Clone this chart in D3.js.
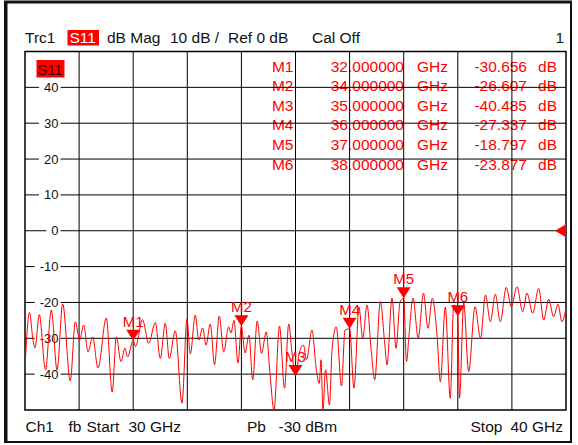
<!DOCTYPE html>
<html>
<head>
<meta charset="utf-8">
<script src="https://cdn.jsdelivr.net/npm/d3@7/dist/d3.min.js"></script>
<style>
    html, body { margin: 0; padding: 0; background: #fff; }
    svg { display: block; font-family: 'Liberation Sans', Arial, sans-serif; }
</style>
</head>
<body>
<svg id="js-graph-svg"></svg>
<script>
'use strict';

// trace S11, dB Mag
const freqGHz = [
    30.000, 30.083, 30.148, 30.185, 30.264, 30.379, 30.486, 30.592, 30.697, 30.837,
    30.930, 31.011, 31.085, 31.165, 31.251, 31.349, 31.503, 31.612, 31.688, 31.775,
    31.848, 31.895, 32.000, 32.043, 32.172, 32.287, 32.409, 32.501, 32.593, 32.667,
    32.778, 32.902, 32.994, 33.055, 33.148, 33.211, 33.285, 33.346, 33.425, 33.503,
    33.591, 33.673, 33.765, 33.808, 33.863, 33.937, 34.000, 34.067, 34.140, 34.209,
    34.292, 34.372, 34.460, 34.519, 34.603, 34.704, 34.797, 34.874, 34.935, 35.000,
    35.074, 35.148, 35.203, 35.305, 35.379, 35.440, 35.471, 35.508, 35.555, 35.628,
    35.675, 35.754, 35.850, 35.915, 36.000, 36.081, 36.174, 36.242, 36.322, 36.401,
    36.464, 36.568, 36.649, 36.691, 36.784, 36.858, 36.932, 37.000, 37.052, 37.098,
    37.172, 37.268, 37.366, 37.449, 37.529, 37.616, 37.677, 37.769, 37.861, 37.924,
    38.000, 38.031, 38.109, 38.201, 38.318, 38.420, 38.512, 38.601, 38.693, 38.786,
    38.897, 38.989, 39.094, 39.200, 39.279, 39.384, 39.495, 39.588, 39.680, 39.772,
    39.852, 39.926, 40.000
];
const magDb = [
    -38.3, -22.8, -30.5, -32.7, -23.4, -38.8, -22.1, -38.8, -20.4, -41.9,
    -25.4, -30.5, -26.3, -33.8, -29.6, -38.3, -24.3, -45.0, -29.6, -36.5,
    -32.7, -35.2, -30.656, -32.3, -24.8, -31.4, -25.6, -35.6, -25.8, -35.6,
    -27.9, -48.1, -24.6, -34.4, -23.5, -30.5, -27.1, -31.9, -26.0, -37.4,
    -23.8, -33.8, -26.8, -28.5, -25.0, -36.9, -26.607, -34.1, -29.1, -41.6,
    -25.2, -34.2, -28.2, -38.0, -50.0, -26.6, -43.9, -26.0, -34.1, -40.485,
    -33.8, -31.9, -36.0, -27.7, -37.9, -42.6, -36.0, -50.0, -38.8, -48.6,
    -33.3, -26.8, -43.3, -27.7, -27.337, -43.9, -21.3, -30.0, -20.7, -33.7,
    -41.6, -19.8, -31.4, -37.4, -18.8, -32.8, -19.9, -18.797, -36.5, -29.1,
    -18.8, -29.9, -17.4, -27.2, -18.8, -29.1, -42.1, -21.3, -46.7, -20.7,
    -23.877, -46.7, -20.2, -39.3, -21.2, -30.0, -17.9, -25.4, -17.7, -25.4,
    -15.8, -21.2, -15.6, -22.6, -17.4, -23.0, -16.1, -24.9, -19.1, -24.0,
    -20.5, -25.4, -21.6
];

const markerNames = ['M1', 'M2', 'M3', 'M4', 'M5', 'M6'];
const markerFreqs = [32, 34, 35, 36, 37, 38];
const markerDb = [-30.656, -26.607, -40.485, -27.337, -18.797, -23.877];

const yTicks = [40, 30, 20, 10, 0, -10, -20, -30, -40];
const refLevel = 0;

(function () {
    const width = 578;
    const height = 445;
    const red = '#ff0000';

    const left = 25, right = 566, top = 51.5, bottom = 410;

    const x = d3.scaleLinear().domain([30, 40]).range([left, right]);
    const y = d3.scaleLinear().domain([-50, 50]).range([bottom, top]);

    // plain hyphen as minus, like the instrument screen
    const locale = d3.formatLocale({ decimal: '.', thousands: ',', grouping: [3], currency: ['', ''], minus: '-' });
    const fmtF = locale.format('.6f');
    const fmtD = locale.format('.3f');

    const svg = d3.select('#js-graph-svg')
        .attr('width', width)
        .attr('height', height);

    // window frame
    svg.append('path')
        .attr('fill', 'none')
        .attr('stroke', '#111')
        .attr('stroke-width', 2)
        .attr('d', 'M6.5,442V2.5H571V442Z');
    svg.append('path')
        .attr('fill', 'none')
        .attr('stroke', '#111')
        .attr('stroke-width', 2)
        .attr('d', 'M5,443V1.5H572');

    // header line
    const head = svg.append('g')
        .style('font-size', '15.5px')
        .attr('fill', '#111');
    head.append('text').attr('x', 25).attr('y', 43).text('Trc1');
    head.append('rect')
        .attr('x', 67.5).attr('y', 30).attr('width', 31.5).attr('height', 15.5)
        .attr('fill', red);
    head.append('text').attr('x', 69.5).attr('y', 43).attr('fill', '#fff').text('S11');
    head.append('text').attr('x', 107).attr('y', 43).text('dB Mag');
    head.append('text').attr('x', 170).attr('y', 43).text('10 dB /');
    head.append('text').attr('x', 228).attr('y', 43).text('Ref 0 dB');
    head.append('text').attr('x', 312).attr('y', 43).text('Cal Off');
    head.append('text').attr('x', 564).attr('y', 43).attr('text-anchor', 'end').text('1');

    // marker table (grid is painted over it)
    const table = svg.append('g')
        .style('font-size', '15.5px')
        .attr('fill', red);
    markerNames.forEach((m, i) => {
        const by = 71.5 + 19.6 * i;
        table.append('text').attr('x', 293.5).attr('y', by).attr('text-anchor', 'end').text(m);
        table.append('text').attr('x', 404).attr('y', by).attr('text-anchor', 'end').text(fmtF(markerFreqs[i]));
        table.append('text').attr('x', 417).attr('y', by).text('GHz');
        table.append('text').attr('x', 527).attr('y', by).attr('text-anchor', 'end').text(fmtD(markerDb[i]));
        table.append('text').attr('x', 557).attr('y', by).attr('text-anchor', 'end').text('dB');
    });

    // grid
    const grid = svg.append('g')
        .attr('stroke', '#000')
        .attr('stroke-width', 1);
    grid.selectAll('.vline')
        .data(d3.range(31, 40))
        .enter().append('line')
        .attr('x1', d => x(d)).attr('x2', d => x(d))
        .attr('y1', top).attr('y2', bottom);
    grid.selectAll('.hline')
        .data(d3.range(-40, 50, 10))
        .enter().append('line')
        .attr('x1', left).attr('x2', right)
        .attr('y1', d => y(d)).attr('y2', d => y(d));
    svg.append('rect')
        .attr('x', left).attr('y', top)
        .attr('width', right - left).attr('height', bottom - top)
        .attr('fill', 'none')
        .attr('stroke', '#000')
        .attr('stroke-width', 1.5);

    // y labels with white knock-out
    const yl = svg.append('g').style('font-size', '13px');
    yTicks.forEach(t => {
        const txt = yl.append('text')
            .attr('x', 58.5).attr('y', y(t) + 4.5)
            .attr('text-anchor', 'end')
            .attr('fill', '#111')
            .text(locale.format('d')(t));
        const bb = txt.node().getBBox();
        yl.insert('rect', 'text')
            .attr('x', bb.x - 5).attr('y', y(t) - 4)
            .attr('width', bb.width + 7).attr('height', 8)
            .attr('fill', '#fff');
    });

    // S11 tag in the diagram
    svg.append('rect')
        .attr('x', 36.5).attr('y', 60).attr('width', 28).attr('height', 17.5)
        .attr('fill', red);
    svg.append('text')
        .attr('x', 37.5).attr('y', 74.5)
        .style('font-size', '14.5px')
        .attr('fill', '#300')
        .text('S11');

    // trace
    svg.append('clipPath').attr('id', 'plot-clip')
        .append('rect')
        .attr('x', left).attr('y', top)
        .attr('width', right - left).attr('height', bottom - top);

    const line = d3.line()
        .x(d => x(d[0]))
        .y(d => y(d[1]))
        .curve(d3.curveMonotoneX);

    svg.append('path')
        .datum(freqGHz.map((f, i) => [f, magDb[i]]))
        .attr('clip-path', 'url(#plot-clip)')
        .attr('fill', 'none')
        .attr('stroke', red)
        .attr('stroke-width', 1)
        .attr('d', line);

    // reference level arrow
    svg.append('path')
        .attr('fill', red)
        .attr('d', 'M' + (right - 11) + ',' + y(refLevel) + 'L' + right + ',' + (y(refLevel) - 6.5) + 'L' + right + ',' + (y(refLevel) + 6.5) + 'Z');

    // markers
    const mk = svg.selectAll('.marker')
        .data(markerNames)
        .enter().append('g')
        .attr('class', 'marker')
        .attr('transform', (d, i) => 'translate(' + x(markerFreqs[i]) + ',' + y(markerDb[i]) + ')');

    mk.append('path')
        .attr('fill', red)
        .attr('d', 'M0,0L-7,-11L7,-11Z');

    mk.append('text')
        .attr('y', -14)
        .attr('text-anchor', 'middle')
        .style('font-size', '15px')
        .attr('fill', red)
        .text(d => d);

    // footer
    const foot = svg.append('g')
        .style('font-size', '15.5px')
        .attr('fill', '#111');
    foot.append('text').attr('x', 25.5).attr('y', 431.5).text('Ch1');
    foot.append('text').attr('x', 68.5).attr('y', 431.5).text('fb');
    foot.append('text').attr('x', 86.5).attr('y', 431.5).text('Start');
    foot.append('text').attr('x', 128.5).attr('y', 431.5).text('30 GHz');
    foot.append('text').attr('x', 247).attr('y', 431.5).text('Pb');
    foot.append('text').attr('x', 278.5).attr('y', 431.5).text('-30 dBm');
    foot.append('text').attr('x', 470.5).attr('y', 431.5).text('Stop');
    foot.append('text').attr('x', 563).attr('y', 431.5).attr('text-anchor', 'end').text('40 GHz');
})();
</script>
</body>
</html>
